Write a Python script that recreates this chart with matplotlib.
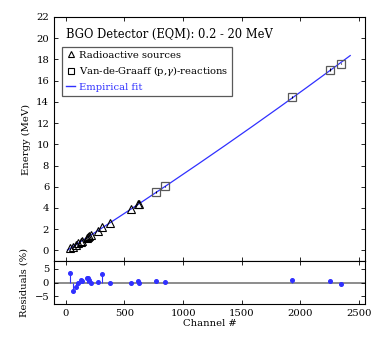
import numpy as np
import matplotlib
matplotlib.use('Agg')
import matplotlib.pyplot as plt
from matplotlib.lines import Line2D

# radioactive sources (triangles)
src_channel = [40, 59, 88, 105, 127, 141, 178, 189, 200, 215, 274, 313, 375, 556, 616, 620]
src_energy = [0.213, 0.328, 0.535, 0.661, 0.826, 0.921, 1.198, 1.280, 1.348, 1.439,
              1.867, 2.206, 2.582, 3.894, 4.354, 4.352]
src_resid = [3.6, -3.25, -1.45, -0.25, 1.0, 0.4, 1.6, 1.8, 1.0, -0.2,
             0.25, 3.1, -0.1, 0.0, 0.5, -0.2]

# Van-de-Graaff (p,gamma) reactions (squares)
vdg_channel = [771, 845, 1926, 2249, 2342]
vdg_energy = [5.504, 6.025, 14.459, 17.034, 17.607]
vdg_err = [0.05, 0.05, 0.08, 0.15, 0.08]
vdg_resid = [0.6, 0.1, 0.87, 0.6, -0.47]

# empirical fit E = c0 + c1*ch + c2*ch^2
fit_coef = [-0.075, 0.0070, 2.5e-7]
fit_range = [15, 2424]

blue = '#3030ff'
fs = 7.2

plt.rcParams['font.family'] = ['DejaVu Serif']
plt.rcParams['mathtext.fontset'] = 'dejavuserif'

fig = plt.figure(figsize=(3.82, 3.39), dpi=100)
ax = fig.add_axes([0.1414, 0.2301, 0.8141, 0.7198])
axr = fig.add_axes([0.1414, 0.1032, 0.8141, 0.1269], sharex=ax)

ch_fit = np.linspace(fit_range[0], fit_range[1], 200)
e_fit = fit_coef[0] + fit_coef[1] * ch_fit + fit_coef[2] * ch_fit ** 2
ax.plot(ch_fit, e_fit, color=blue, lw=0.9, zorder=2)

ax.plot(src_channel, src_energy, ls='none', marker='^', ms=5.8, mfc='none',
        mec='black', mew=0.8, zorder=3)
ax.errorbar(vdg_channel, vdg_energy, yerr=vdg_err, fmt='s', ms=5.5, mfc='none',
            mec='0.35', mew=0.9, ecolor='black', elinewidth=0.8, capsize=0, zorder=3)

ax.set_xlim(-100, 2550)
ax.set_ylim(-1, 22)
ax.set_yticks(np.arange(0, 23, 2))
ax.set_ylabel('Energy (MeV)', fontsize=fs)
ax.tick_params(direction='in', top=True, right=True, labelsize=fs,
               labelbottom=False, length=3, width=0.6)

ax.text(0.039, 0.93, 'BGO Detector (EQM): 0.2 - 20 MeV', transform=ax.transAxes,
        fontsize=8.3, va='center', ha='left')

handles = [
    Line2D([], [], ls='none', marker='^', ms=4.5, mfc='none', mec='black', mew=0.8),
    Line2D([], [], ls='none', marker='s', ms=4.5, mfc='none', mec='black', mew=0.8),
    Line2D([], [], color=blue, lw=1),
]
labels = ['Radioactive sources', 'Van-de-Graaff (p,$\\gamma$)-reactions', 'Empirical fit']
leg = ax.legend(handles, labels, loc='upper left', bbox_to_anchor=(0.026, 0.877),
                borderaxespad=0, fontsize=fs, handlelength=0.9, handletextpad=0.4,
                labelspacing=0.45, fancybox=False, framealpha=1, edgecolor='0.35')
leg.get_frame().set_linewidth(0.9)
leg.get_texts()[2].set_color(blue)

# residuals
all_ch = src_channel + vdg_channel
all_res = src_resid + vdg_resid
axr.axhline(0, color='0.55', lw=1.4, zorder=1)
axr.vlines(all_ch, 0, all_res, color=blue, lw=0.8, zorder=2)
axr.plot(all_ch, all_res, ls='none', marker='o', ms=2.6, color=blue, zorder=3)
axr.set_ylim(-7.8, 7.8)
axr.set_yticks([-5, 0, 5])
axr.set_xticks([0, 500, 1000, 1500, 2000, 2500])
axr.set_xlabel('Channel #', fontsize=fs, labelpad=1)
axr.set_ylabel('Residuals (%)', fontsize=fs)
axr.tick_params(direction='in', top=True, right=True, labelsize=fs,
                length=3, width=0.6)

for a in (ax, axr):
    for s in a.spines.values():
        s.set_linewidth(0.8)

fig.align_ylabels([ax, axr])
fig.savefig('out.png', dpi=100)
